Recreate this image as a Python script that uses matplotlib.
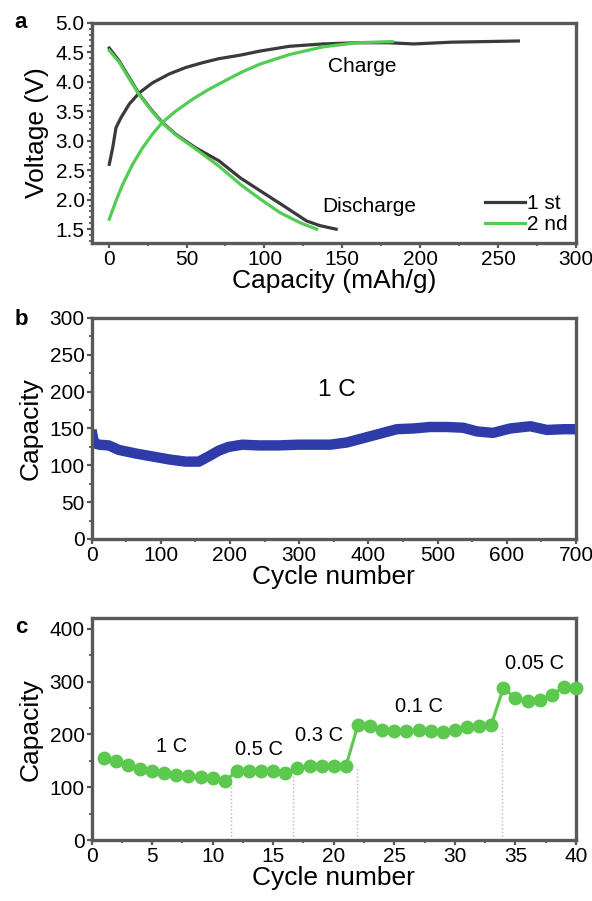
import matplotlib.pyplot as plt
from matplotlib.ticker import MultipleLocator

plt.rcParams['font.family'] = ['Liberation Sans', 'DejaVu Sans']

# ---- panel a: charge / discharge profiles ----
chg1_cap = [0.4, 2.6, 4.7, 7.9, 13.2, 19.6, 28.1, 38.8, 49.4, 60, 70.7, 84.5,
            97.3, 116, 137.5, 159, 180, 196, 220, 263]
chg1_v = [2.60, 2.88, 3.22, 3.39, 3.62, 3.81, 3.98, 4.13, 4.24, 4.32, 4.39, 4.45,
          4.52, 4.60, 4.64, 4.66, 4.66, 4.64, 4.67, 4.69]
chg2_cap = [0.4, 4.7, 9.0, 15.4, 21.8, 28.1, 34.5, 43, 53.7, 64.3, 75, 86,
            97.3, 116, 137.5, 159, 182]
chg2_v = [1.67, 1.98, 2.26, 2.60, 2.88, 3.11, 3.31, 3.50, 3.70, 3.87, 4.02, 4.17,
          4.30, 4.46, 4.59, 4.66, 4.68]
dis1_cap = [0.4, 6.8, 13.2, 19.6, 28.1, 34.5, 43, 55.8, 70.7, 84.5, 97.3, 112,
            127, 135.6, 146]
dis1_v = [4.57, 4.35, 4.07, 3.79, 3.50, 3.31, 3.11, 2.88, 2.66, 2.37, 2.15, 1.90,
          1.64, 1.56, 1.50]
dis2_cap = [0.4, 6.8, 13.2, 19.6, 28.1, 34.5, 43, 55.8, 70.7, 84.5, 97.3, 110,
            122.8, 133.5]
dis2_v = [4.53, 4.33, 4.05, 3.78, 3.49, 3.30, 3.10, 2.86, 2.57, 2.26, 2.01, 1.78,
          1.61, 1.50]

# ---- panel b: long cycling at 1 C ----
cyc_b = [0, 2, 4, 11, 25, 39, 64, 88, 112, 136, 155, 169, 184, 198, 218, 241,
         270, 299, 328, 345, 369, 393, 417, 441, 465, 489, 513, 537, 557, 580,
         605, 634, 658, 682, 700]
cap_b = [148, 138, 130, 128, 127, 121, 116, 112, 108, 105, 105, 112, 120, 125,
         128, 127, 127, 128, 128, 128, 131, 137, 143, 149, 150, 152, 152, 151,
         146, 144, 150, 153, 148, 149, 149]

# ---- panel c: rate capability ----
cyc_c = list(range(1, 41))
cap_c = [155, 150, 143, 135, 130, 126, 123, 121, 119, 118, 112,
         130, 131, 130, 130, 126,
         137, 140, 140, 141, 140,
         218, 215, 209, 206, 206, 208, 206, 205, 209, 214, 215, 218,
         288, 269, 263, 266, 275, 290, 288]
rate_labels = ['1 C', '0.5 C', '0.3 C', '0.1 C', '0.05 C']
rate_x = [6.6, 13.8, 18.8, 27.0, 36.6]
rate_y = [177, 171, 197, 252, 335]
switch_x = [11.5, 16.6, 21.9, 33.85]
switch_top = [110, 125, 140, 215]

gray = '#3a3a3a'
green_a = '#52cc52'
green_c = '#5cc94e'
blue = '#2f3ba8'
spine_col = '#595959'

fig = plt.figure(figsize=(5.92, 9.01), dpi=100)
ax_a = fig.add_axes([0.1546, 0.7306, 0.8184, 0.2442])
ax_b = fig.add_axes([0.1546, 0.4018, 0.8184, 0.2453])
ax_c = fig.add_axes([0.1546, 0.0677, 0.8184, 0.2461])


def style(ax):
    for s in ax.spines.values():
        s.set_color(spine_col)
        s.set_linewidth(2.4)
    ax.tick_params(which='both', direction='out', colors=spine_col,
                   labelcolor='black', labelsize=15, top=False, right=False)
    ax.tick_params(which='major', length=3.5, width=1.6, pad=1.5)
    ax.tick_params(which='minor', length=2.5, width=1.3)


# a
ax_a.plot(chg1_cap, chg1_v, color=gray, lw=2.3, label='1 st')
ax_a.plot(dis1_cap, dis1_v, color=gray, lw=2.3)
ax_a.plot(chg2_cap, chg2_v, color=green_a, lw=2.3, label='2 nd')
ax_a.plot(dis2_cap, dis2_v, color=green_a, lw=2.3)
ax_a.set_xlim(-11, 300)
ax_a.set_ylim(1.27, 5.0)
ax_a.xaxis.set_major_locator(MultipleLocator(50))
ax_a.xaxis.set_minor_locator(MultipleLocator(25))
ax_a.yaxis.set_minor_locator(MultipleLocator(0.1))
ax_a.set_yticks([1.5, 2.0, 2.5, 3.0, 3.5, 4.0, 4.5, 5.0])
ax_a.set_xlabel('Capacity (mAh/g)', fontsize=19, labelpad=0)
ax_a.set_ylabel('Voltage (V)', fontsize=19, labelpad=5)
ax_a.text(163, 4.25, 'Charge', fontsize=15, ha='center', va='center')
ax_a.text(167, 1.89, 'Discharge', fontsize=15, ha='center', va='center')
ax_a.legend(loc='lower right', frameon=False, fontsize=15, handlelength=1.9,
            handletextpad=0.1, labelspacing=0.1, borderaxespad=0.1,
            borderpad=0.3)
style(ax_a)

# b
ax_b.plot(cyc_b, cap_b, color=blue, lw=7.5, solid_capstyle='butt')
ax_b.set_xlim(0, 700)
ax_b.set_ylim(0, 300)
ax_b.xaxis.set_major_locator(MultipleLocator(100))
ax_b.xaxis.set_minor_locator(MultipleLocator(50))
ax_b.yaxis.set_major_locator(MultipleLocator(50))
ax_b.yaxis.set_minor_locator(MultipleLocator(25))
ax_b.set_xlabel('Cycle number', fontsize=19, labelpad=0)
ax_b.set_ylabel('Capacity', fontsize=19, labelpad=5)
ax_b.text(354, 202, '1 C', fontsize=17.5, ha='center', va='center')
style(ax_b)

# c
ax_c.vlines(switch_x, 0, switch_top, colors='#b8b8b8', linestyles=':', lw=1)
ax_c.plot(cyc_c, cap_c, color=green_c, lw=2.2, marker='o', markersize=10,
          markeredgewidth=0, clip_on=False, zorder=3)
for lab, x, y in zip(rate_labels, rate_x, rate_y):
    ax_c.text(x, y, lab, fontsize=14.5, ha='center', va='center')
ax_c.set_xlim(0, 40)
ax_c.set_ylim(0, 420)
ax_c.xaxis.set_major_locator(MultipleLocator(5))
ax_c.xaxis.set_minor_locator(MultipleLocator(2.5))
ax_c.yaxis.set_minor_locator(MultipleLocator(50))
ax_c.set_yticks([0, 100, 200, 300, 400])
ax_c.set_xlabel('Cycle number', fontsize=19, labelpad=0)
ax_c.set_ylabel('Capacity', fontsize=19, labelpad=5)
style(ax_c)

for lab, y in zip(['a', 'b', 'c'], [0.969, 0.639, 0.2974]):
    fig.text(0.025, y, lab, fontsize=16, fontweight='bold', va='baseline')

fig.savefig('out.png', dpi=100)
